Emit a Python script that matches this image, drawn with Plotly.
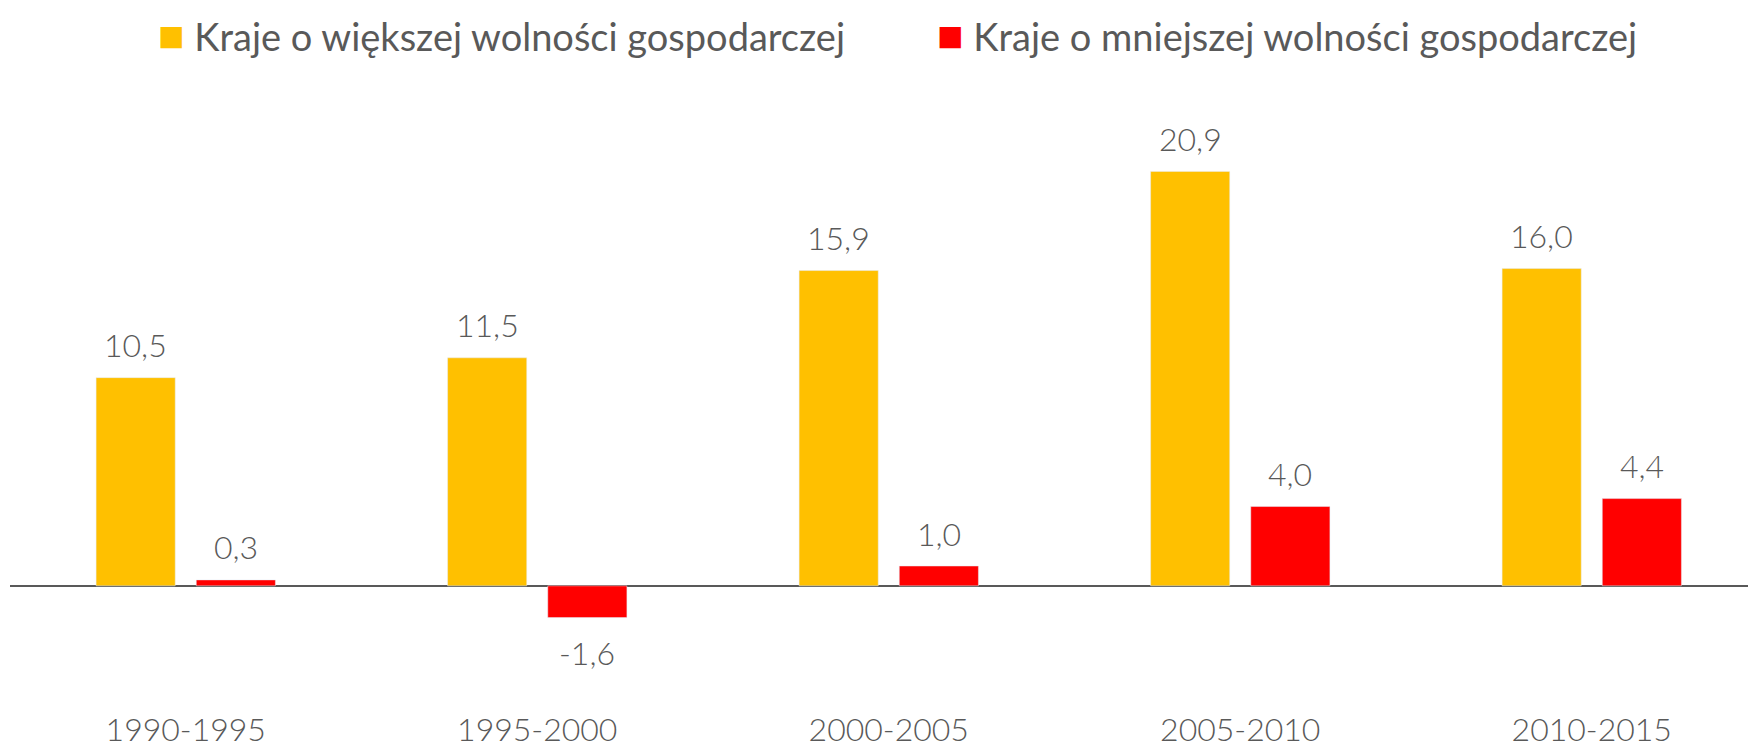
import plotly.graph_objects as go

# Data
periods = ["1990-1995", "1995-2000", "2000-2005", "2005-2010", "2010-2015"]
wieksza = [10.5, 11.5, 15.9, 20.9, 16.0]
mniejsza = [0.3, -1.6, 1.0, 4.0, 4.4]
series_names = ["Kraje o większej wolności gospodarczej",
                "Kraje o mniejszej wolności gospodarczej"]

YELLOW = "#FFC000"
RED = "#FF0000"
GREY = "#595959"
FONT = "Lato"


def fmt(v):
    return f"{v:.1f}".replace(".", ",")


fig = go.Figure()
fig.add_trace(go.Bar(name=series_names[0], x=periods, y=wieksza,
                     marker_color=YELLOW, showlegend=False, hoverinfo="skip"))
fig.add_trace(go.Bar(name=series_names[1], x=periods, y=mniejsza,
                     marker_color=RED, showlegend=False, hoverinfo="skip"))

# value labels above / below bars
annotations = []
for vals, shift in [(wieksza, -50), (mniejsza, 50)]:
    for p, v in zip(periods, vals):
        annotations.append(dict(
            x=p, y=v, xref="x", yref="y", text=fmt(v), showarrow=False,
            xshift=shift, yshift=33 if v >= 0 else -35,
            xanchor="center", yanchor="middle",
            font=dict(family=FONT, size=32, color=GREY, weight=300)))

# custom legend (bigger squares than plotly's legend icons)
for name, col, xp in [(series_names[0], YELLOW, 0.2804), (series_names[1], RED, 0.728)]:
    annotations.append(dict(
        x=xp, y=1.108, xref="paper", yref="paper", showarrow=False,
        xanchor="center", yanchor="middle",
        text=f'<span style="color:{col};font-size:44px">■</span> {name}',
        font=dict(family=FONT, size=38, color=GREY)))

fig.update_layout(
    width=1756, height=748,
    margin=dict(l=2, r=0, t=92, b=48),
    paper_bgcolor="white", plot_bgcolor="white",
    barmode="group", bargap=0.43, bargroupgap=0.21,
    annotations=annotations,
    showlegend=False,
)
fig.update_xaxes(range=[-0.5, 4.49], showgrid=False, showline=False, ticks="",
                 tickfont=dict(family=FONT, size=32, color=GREY, weight=300))
fig.update_yaxes(range=[-6.16, 24.5], showgrid=False, showticklabels=False,
                 zeroline=True, zerolinecolor=GREY, zerolinewidth=2)

fig.write_html("out.html")
